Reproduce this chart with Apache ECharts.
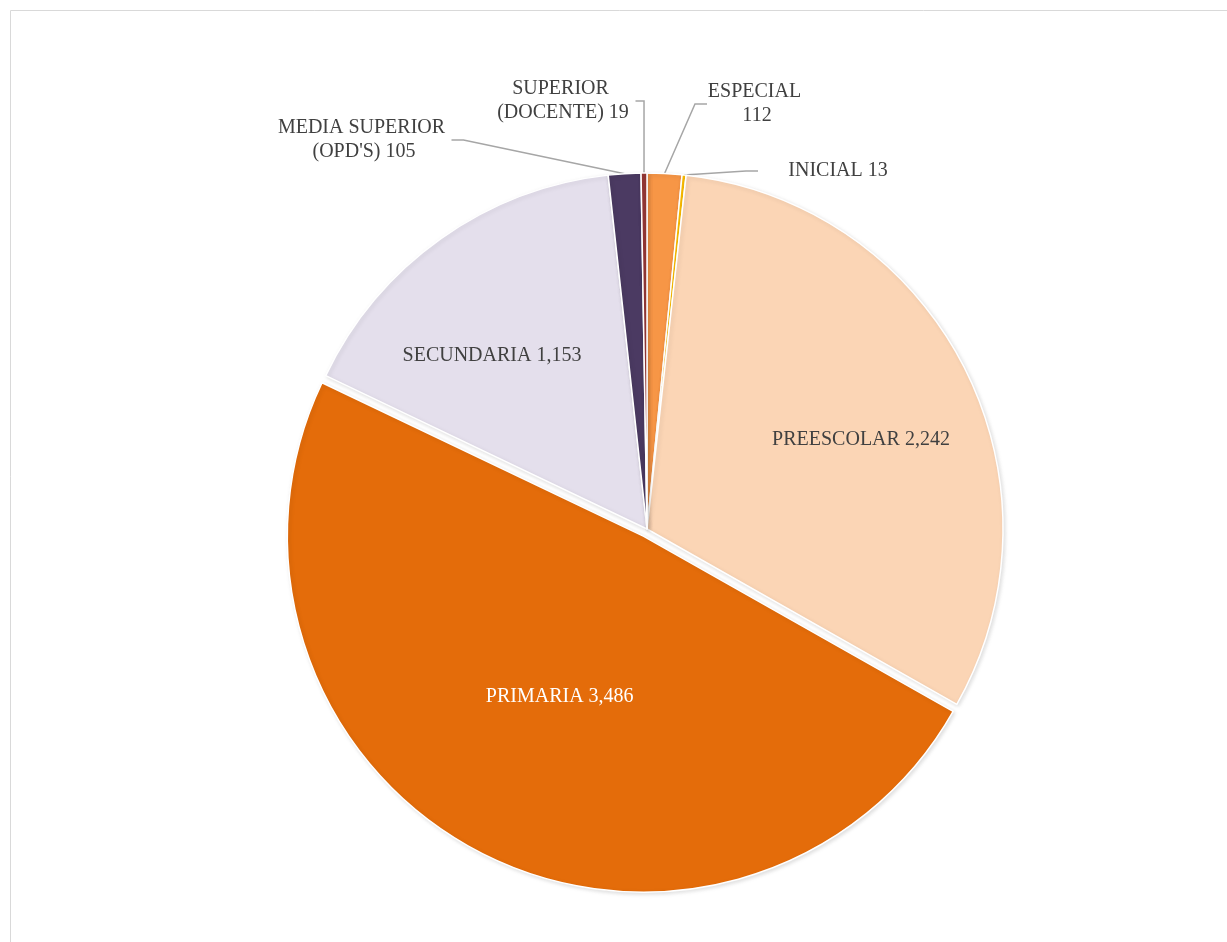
<!DOCTYPE html>
<html>
<head>
<meta charset="utf-8">
<script src="https://cdn.jsdelivr.net/npm/echarts@6/dist/echarts.min.js"></script>
<style>
  html, body { margin: 0; padding: 0; background: #fff; overflow: hidden; }
  #chart { width: 1227px; height: 942px; }
</style>
</head>
<body>
<div id="chart"></div>
<script>
var categories = ['ESPECIAL', 'INICIAL', 'PREESCOLAR', 'PRIMARIA', 'SECUNDARIA', "MEDIA SUPERIOR (OPD'S)", 'SUPERIOR (DOCENTE)'];
var values = [112, 13, 2242, 3486, 1153, 105, 19];
var colors = ['#F79646', '#FFC000', '#FBD5B5', '#E46C0A', '#E4DFEC', '#4B3A62', '#953735'];

// where each label sits (centre of its text box) and how it wraps
var labelSpots = {
  'ESPECIAL': { x: 757, y: 104, w: 100, out: true },
  'INICIAL': { x: 838, y: 171, w: 160, out: true },
  'PREESCOLAR': { x: 861, y: 440, w: 260 },
  'PRIMARIA': { x: 561, y: 693, w: 260 },
  'SECUNDARIA': { x: 492, y: 356, w: 260 },
  "MEDIA SUPERIOR (OPD'S)": { x: 364, y: 140, w: 175, out: true },
  'SUPERIOR (DOCENTE)': { x: 563, y: 101, w: 145, out: true }
};

var myChart = echarts.init(document.getElementById('chart'));

var pieData = categories.map(function (name, i) {
  var spot = labelSpots[name];
  var item = {
    name: name,
    value: values[i],
    itemStyle: { color: colors[i] },
    label: {
      position: spot.out ? 'outside' : 'inside',
      width: spot.w,
      overflow: 'break',
      color: name === 'PRIMARIA' ? '#ffffff' : '#404040'
    },
    labelLine: { show: !!spot.out }
  };
  if (name === 'PRIMARIA') {
    item.selected = true;
  }
  return item;
});

var option = {
  animation: false,
  graphic: [{
    type: 'rect',
    shape: { x: 10.5, y: 10.5, width: 1300, height: 1000 },
    style: { fill: 'none', stroke: '#d9d9d9', lineWidth: 1 },
    silent: true
  }],
  series: [{
    type: 'pie',
    center: [647, 529],
    radius: 356,
    startAngle: 90,
    clockwise: true,
    selectedMode: 'single',
    selectedOffset: 8,
    avoidLabelOverlap: false,
    itemStyle: {
      borderColor: '#ffffff',
      borderWidth: 1.5,
      shadowBlur: 4,
      shadowColor: 'rgba(0,0,0,0.13)',
      shadowOffsetX: 1.5,
      shadowOffsetY: 1.5
    },
    emphasis: { scale: false },
    label: {
      fontFamily: 'Liberation Serif',
      fontSize: 20,
      lineHeight: 24,
      color: '#404040',
      formatter: function (p) {
        return p.name + ' ' + p.value.toLocaleString('en-US');
      }
    },
    labelLine: {
      length: 20,
      length2: 12,
      lineStyle: { color: '#a6a6a6', width: 1.5 }
    },
    labelLayout: function (params) {
      var spot = labelSpots[categories[params.dataIndex]];
      return {
        x: spot.x,
        y: spot.y,
        align: 'center',
        verticalAlign: 'middle'
      };
    },
    data: pieData
  }]
};
myChart.setOption(option);
</script>
</body>
</html>
